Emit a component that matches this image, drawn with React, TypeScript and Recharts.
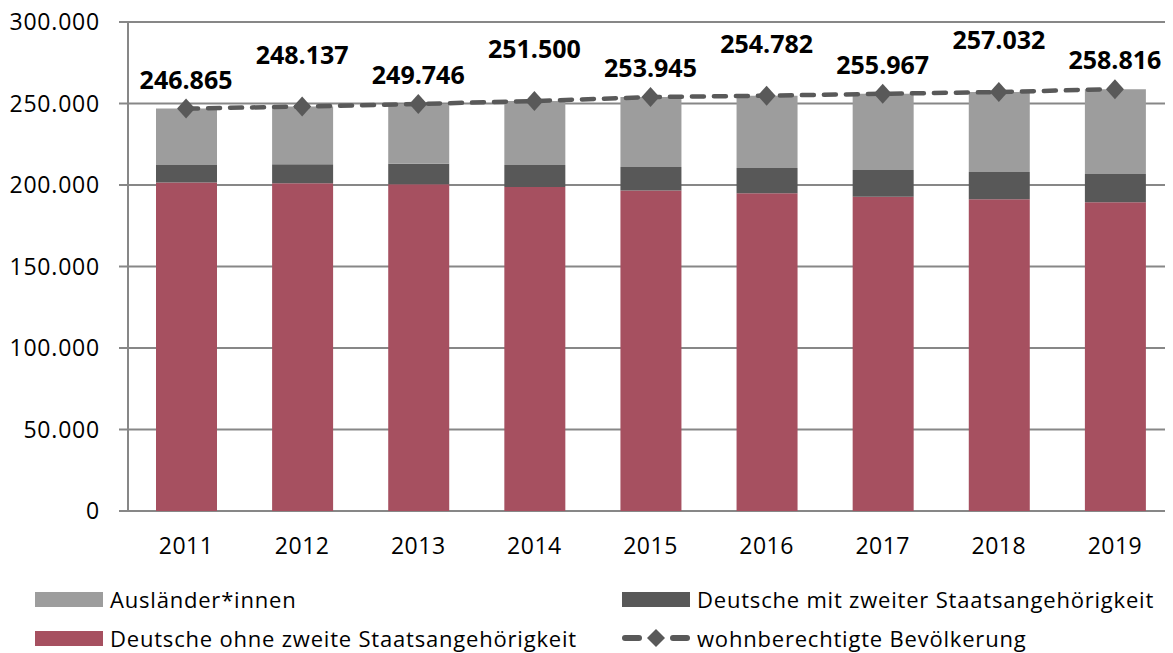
import React from "react";
import {
  ComposedChart,
  Bar,
  Line,
  XAxis,
  YAxis,
  CartesianGrid,
  Legend,
  LabelList,
} from "recharts";

const years = ["2011", "2012", "2013", "2014", "2015", "2016", "2017", "2018", "2019"];
const ohneZweite = [201600, 201000, 200400, 198800, 196700, 194900, 192800, 191200, 189400];
const mitZweiter = [10700, 11700, 12700, 13500, 14300, 15500, 16400, 16800, 17300];
const auslaender = [34565, 35437, 36646, 39200, 42945, 44382, 46767, 49032, 52116];
const bevoelkerung = [246865, 248137, 249746, 251500, 253945, 254782, 255967, 257032, 258816];
const yTicks = [0, 50000, 100000, 150000, 200000, 250000, 300000];
const bandTicks = [0, 1, 2, 3, 4, 5, 6, 7, 8, 9];

const data = years.map((year, i) => ({
  year,
  ohne: ohneZweite[i],
  mit: mitZweiter[i],
  ausl: auslaender[i],
  total: bevoelkerung[i],
}));

const FONT = "'Open Sans', sans-serif";
const AXIS = "#878787";
const RED = "#a65060";
const DARK = "#585858";
const GRAY = "#9d9d9d";
const LINE = "#595959";

const fmt = (v: number) => String(v).replace(/\B(?=(\d{3})+(?!\d))/g, ".");

const Diamond = (props: any) => {
  const { cx, cy } = props;
  if (cx == null || cy == null) return null;
  return (
    <polygon
      points={`${cx},${cy - 10} ${cx + 9},${cy} ${cx},${cy + 10} ${cx - 9},${cy}`}
      fill={LINE}
    />
  );
};

const ValueLabel = (props: any) => {
  const { x, y, value, index } = props;
  const lift = index % 2 === 0 ? 20 : 43;
  return (
    <text
      x={x}
      y={y - lift}
      textAnchor="middle"
      fontFamily={FONT}
      fontWeight={700}
      fontSize={25}
      fill="#000"
    >
      {fmt(value)}
    </text>
  );
};

const slots: Record<string, { left: number; top: number }> = {
  ausl: { left: 27, top: 21 },
  mit: { left: 614, top: 21 },
  ohne: { left: 27, top: 60 },
  total: { left: 614, top: 60 },
};

const LegendBox = ({ payload }: any) => (
  <div style={{ position: "relative", height: 87, fontFamily: FONT, fontSize: 22, letterSpacing: 0.8 }}>
    {(payload || []).map((entry: any) => {
      const slot = slots[entry.dataKey];
      if (!slot) return null;
      const isLine = entry.dataKey === "total";
      return (
        <div
          key={entry.dataKey}
          style={{
            position: "absolute",
            left: slot.left,
            top: slot.top,
            display: "flex",
            alignItems: "center",
            height: 24,
            whiteSpace: "nowrap",
            color: "#000",
          }}
        >
          {isLine ? (
            <svg width={68} height={20} style={{ marginRight: 7 }}>
              <line x1={3} y1={10} x2={17} y2={10} stroke={LINE} strokeWidth={6} strokeLinecap="round" />
              <polygon points="34,1 43,10 34,19 25,10" fill={LINE} />
              <line x1={51} y1={10} x2={65} y2={10} stroke={LINE} strokeWidth={6} strokeLinecap="round" />
            </svg>
          ) : (
            <span
              style={{
                display: "inline-block",
                width: 68,
                height: 15,
                background: entry.color,
                marginRight: 7,
              }}
            />
          )}
          <span>{entry.value}</span>
        </div>
      );
    })}
  </div>
);

export default function App() {
  return (
    <div style={{ marginTop: -8 }}>
      <ComposedChart
        width={1165}
        height={653}
        data={data}
        margin={{ top: 22, right: 0, left: 0, bottom: 0 }}
      >
        <CartesianGrid vertical={false} stroke={AXIS} strokeWidth={2} />
        <XAxis
          xAxisId="frame"
          type="number"
          domain={[0, 9]}
          ticks={bandTicks}
          allowDataOverflow
          height={0}
          tickSize={8}
          tickFormatter={() => ""}
          axisLine={{ stroke: AXIS, strokeWidth: 2 }}
          tickLine={{ stroke: AXIS, strokeWidth: 2 }}
        />
        <XAxis
          dataKey="year"
          height={55}
          axisLine={false}
          tickLine={false}
          tickSize={0}
          tickMargin={27}
          tick={{ fill: "#000", fontFamily: FONT, fontSize: 23, letterSpacing: 0.5 }}
        />
        <YAxis
          width={120}
          domain={[0, 300000]}
          ticks={yTicks}
          tickFormatter={fmt}
          tickSize={9}
          tickMargin={19}
          axisLine={{ stroke: AXIS, strokeWidth: 2 }}
          tickLine={{ stroke: AXIS, strokeWidth: 2 }}
          tick={{ fill: "#000", fontFamily: FONT, fontSize: 23, letterSpacing: 0.8 }}
        />
        <Legend verticalAlign="bottom" height={87} content={<LegendBox />} wrapperStyle={{ left: 0, width: 1165 }} />
        <Bar dataKey="ohne" name="Deutsche ohne zweite Staatsangehörigkeit" stackId="a" fill={RED} barSize={61} isAnimationActive={false} />
        <Bar dataKey="mit" name="Deutsche mit zweiter Staatsangehörigkeit" stackId="a" fill={DARK} barSize={61} isAnimationActive={false} />
        <Bar dataKey="ausl" name="Ausländer*innen" stackId="a" fill={GRAY} barSize={61} isAnimationActive={false} />
        <Line
          dataKey="total"
          name="wohnberechtigte Bevölkerung"
          stroke={LINE}
          strokeWidth={4.5}
          strokeDasharray="12 10"
          strokeLinecap="round"
          dot={<Diamond />}
          activeDot={false}
          isAnimationActive={false}
        >
          <LabelList dataKey="total" content={<ValueLabel />} />
        </Line>
      </ComposedChart>
    </div>
  );
}
